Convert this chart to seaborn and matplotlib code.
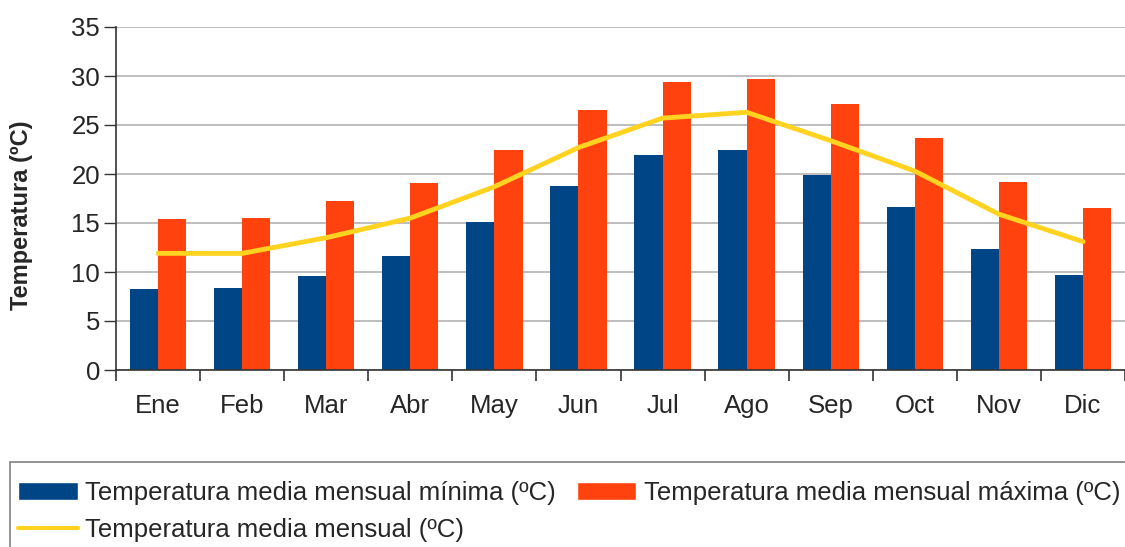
import numpy as np
import pandas as pd
import seaborn as sns
import matplotlib.pyplot as plt
from matplotlib.patches import Patch, Rectangle
from matplotlib.lines import Line2D
from matplotlib.ticker import FixedLocator

# datos
meses = ["Ene", "Feb", "Mar", "Abr", "May", "Jun", "Jul", "Ago", "Sep", "Oct", "Nov", "Dic"]
t_min = [8.3, 8.4, 9.6, 11.6, 15.1, 18.8, 21.9, 22.5, 19.9, 16.6, 12.3, 9.7]
t_max = [15.4, 15.5, 17.2, 19.1, 22.5, 26.5, 29.4, 29.7, 27.1, 23.7, 19.2, 16.5]
t_media = [11.9, 11.9, 13.5, 15.5, 18.7, 22.7, 25.7, 26.3, 23.4, 20.3, 15.9, 13.1]

lab_min = "Temperatura media mensual mínima (ºC)"
lab_max = "Temperatura media mensual máxima (ºC)"
lab_media = "Temperatura media mensual (ºC)"

c_min = "#004586"
c_max = "#FF420E"
c_media = "#FFD320"

df = pd.DataFrame({"mes": meses * 2,
                   "temp": t_min + t_max,
                   "serie": [lab_min] * 12 + [lab_max] * 12})
df_media = pd.DataFrame({"mes": meses, "temp": t_media})

sns.set_style("white")
plt.rcParams["font.family"] = ["Liberation Sans", "DejaVu Sans"]

fig = plt.figure(figsize=(11.25, 5.47), dpi=100)
ax = fig.add_axes([116 / 1125, 1 - 370 / 547, 1009 / 1125, 343 / 547])

sns.barplot(data=df, x="mes", y="temp", hue="serie", order=meses,
            palette=[c_min, c_max], width=0.67, gap=0, saturation=1,
            linewidth=0, edgecolor="none", legend=False, ax=ax, zorder=2)
sns.pointplot(data=df_media, x="mes", y="temp", order=meses, color=c_media,
              markers="", linewidth=3.5, errorbar=None, ax=ax, zorder=3)

ax.set_xlim(-0.5, 11.5)
ax.set_ylim(0, 35)
ax.set_yticks(range(0, 36, 5))
ax.yaxis.grid(True, color="#b3b3b3", linewidth=1.2, zorder=0)
ax.set_axisbelow(True)

ax.xaxis.set_minor_locator(FixedLocator(np.arange(-0.5, 12, 1)))
ax.tick_params(axis="x", which="major", length=0, pad=17, labelsize=18.5)
ax.tick_params(axis="x", which="minor", length=8, width=1.2, color="#333333", direction="out", bottom=True)
ax.tick_params(axis="y", length=8.5, width=1, color="#333333", direction="out", left=True, pad=3, labelsize=18.5)

for s in ["top", "right"]:
    ax.spines[s].set_visible(False)
for s in ["left", "bottom"]:
    ax.spines[s].set_color("#333333")
    ax.spines[s].set_linewidth(1.2)

ax.set_xlabel("")
ax.set_ylabel("Temperatura (ºC)", fontsize=17, fontweight="bold")
ax.yaxis.set_label_coords(-0.082, 0.45)

# marco de la leyenda (sale por la derecha y por abajo como en el original)
fig.patches.append(Rectangle((10 / 1125, -0.05), 1.1, 1 - 462 / 547 + 0.05,
                             transform=fig.transFigure, facecolor="white",
                             edgecolor="#808080", linewidth=1.2, zorder=0))

handles = [Patch(facecolor=c_min, label=lab_min),
           Line2D([], [], color=c_media, linewidth=3, label=lab_media),
           Patch(facecolor=c_max, label=lab_max)]
fig.legend(handles=handles, ncol=2, loc="upper left",
           bbox_to_anchor=(10 / 1125, 1 - 473 / 547), fontsize=18.5,
           frameon=False, handlelength=2.33, handleheight=0.7,
           handletextpad=0.3, columnspacing=0.8, labelspacing=0.5,
           borderpad=0.3, borderaxespad=0)

fig.savefig("out.png", dpi=100)
